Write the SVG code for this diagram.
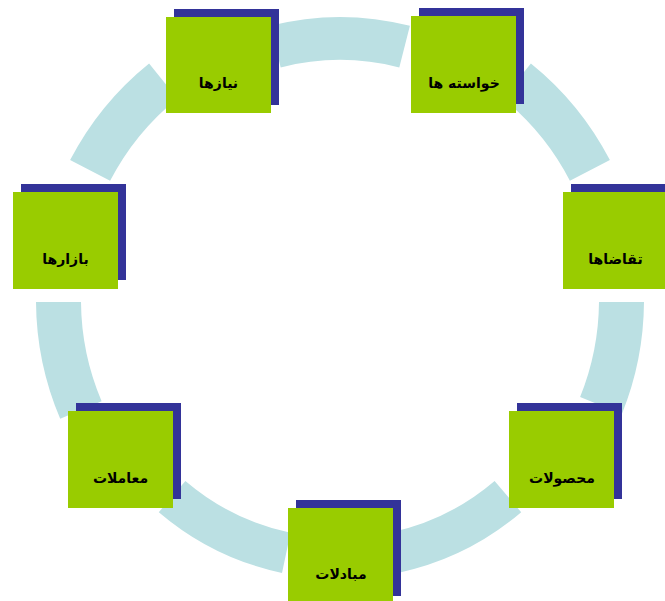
<svg xmlns="http://www.w3.org/2000/svg" width="665" height="601" viewBox="0 0 665 601">
<style>
.seg{fill:#BBE0E3;stroke:none}
.sh{fill:#333399}
.bx{fill:#99CC00}
.lb{font-family:"DejaVu Sans",sans-serif;font-weight:bold;font-size:14px;fill:#000;text-anchor:middle}
</style>
<rect width="665" height="601" fill="#FFFFFF"/>
<g id="connectors">
<path class="seg" d="M270.1,25.8 A283,283 0 0,1 409.9,25.8 L399.3,67.4 A240,240 0 0,0 280.7,67.4 Z"/>
<path class="seg" d="M530.9,63.4 A304,304 0 0,1 609.9,160.1 L569.9,180.8 A259,259 0 0,0 502.7,98.4 Z"/>
<path class="seg" d="M644,302 A304,304 0 0,1 621.9,413.9 L580.1,397 A259,259 0 0,0 599,302 Z"/>
<path class="seg" d="M398,572.9 A279,279 0 0,0 521.2,512.2 L494.6,481 A238,238 0 0,1 389.5,532.8 Z"/>
<path class="seg" d="M282,572.9 A279,279 0 0,1 158.8,512.2 L185.4,481 A238,238 0 0,0 290.5,532.8 Z"/>
<path class="seg" d="M36,302 A304,304 0 0,0 60.2,418.8 L101.6,401.2 A259,259 0 0,1 81,302 Z"/>
<path class="seg" d="M149.1,63.4 A304,304 0 0,0 70.1,160.1 L110.1,180.8 A259,259 0 0,1 177.3,98.4 Z"/>
</g>
<g id="node1"><rect class="sh" x="174" y="9" width="105" height="96"/><rect class="bx" x="166" y="17" width="105" height="96"/><text class="lb" x="218.5" y="88">نیازها</text></g>
<g id="node2"><rect class="sh" x="419" y="8" width="105" height="96"/><rect class="bx" x="411" y="16" width="105" height="97"/><text class="lb" x="464" y="88">خواسته ها</text></g>
<g id="node3"><rect class="sh" x="571" y="184" width="105" height="96"/><rect class="bx" x="563" y="192" width="105" height="97"/><text class="lb" x="615.5" y="264">تقاضاها</text></g>
<g id="node4"><rect class="sh" x="517" y="403" width="105" height="96"/><rect class="bx" x="509" y="411" width="105" height="97"/><text class="lb" x="562" y="483">محصولات</text></g>
<g id="node5"><rect class="sh" x="296" y="500" width="105" height="96"/><rect class="bx" x="288" y="508" width="105" height="97"/><text class="lb" x="341" y="579">مبادلات</text></g>
<g id="node6"><rect class="sh" x="76" y="403" width="105" height="96"/><rect class="bx" x="68" y="411" width="105" height="97"/><text class="lb" x="120.5" y="483">معاملات</text></g>
<g id="node7"><rect class="sh" x="21" y="184" width="105" height="96"/><rect class="bx" x="13" y="192" width="105" height="97"/><text class="lb" x="65.5" y="264">بازارها</text></g>
</svg>
